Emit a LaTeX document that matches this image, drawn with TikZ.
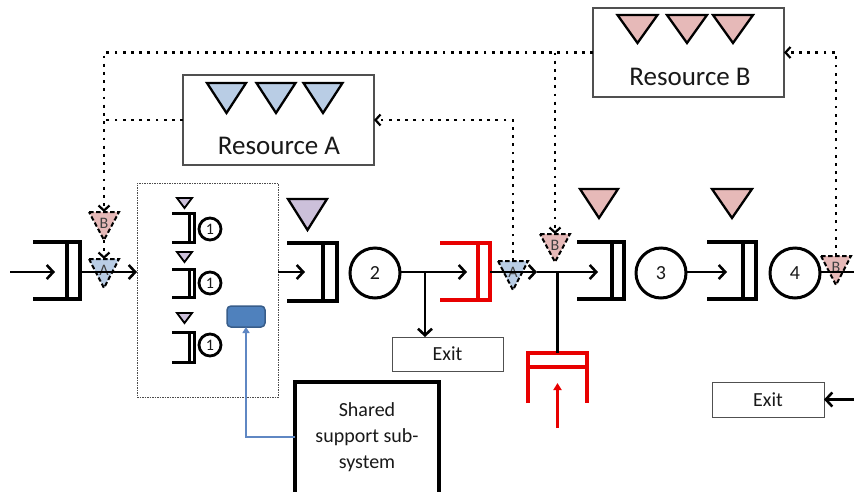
\documentclass[tikz,border=0pt]{standalone}
\usepackage{fontspec}
\setmainfont{Carlito}
\usetikzlibrary{arrows.meta}
\definecolor{pinkf}{RGB}{230,185,184}
\definecolor{bluef}{RGB}{185,205,229}
\definecolor{purf}{RGB}{204,192,218}
\definecolor{myred}{RGB}{232,0,0}
\definecolor{bluebox}{RGB}{79,129,189}
\definecolor{blueline}{RGB}{56,93,138}
\definecolor{bluearrow}{RGB}{95,135,195}
\definecolor{boxgray}{RGB}{80,80,80}
\definecolor{txt}{RGB}{25,25,25}
% triangle: name, x, top y, half width, height, style
\newcommand\tri[6]{%
  \draw[#6] ({#2-#4},#3) -- ({#2+#4},#3) -- (#2,{#3+#5}) -- cycle;
  \coordinate (#1) at (#2,#3);
  \coordinate (#1b) at (#2,{#3+#5});}
% queue: left, inner, outer, top, bottom, style
\newcommand\qshape[6]{%
  \draw[#6] (#1,#4) -- (#3,#4) -- (#3,#5) -- (#1,#5);
  \draw[#6] (#2,#4) -- (#2,#5);}
\begin{document}
\begin{tikzpicture}[x=1pt,y=-1pt,
  every node/.style={inner sep=0pt, outer sep=0pt, text=txt},
  qline/.style={line width=3.8pt},
  rqline/.style={line width=3.8pt, draw=myred},
  sqline/.style={line width=3pt},
  flow/.style={line width=2.6pt},
  arr/.style={line width=2.6pt, -{Straight Barb[length=6.5pt,width=14pt]}},
  dotl/.style={line width=2.8pt, dash pattern=on 2.8pt off 5.4pt},
  dotarr/.style={dotl, -{Straight Barb[length=5pt,width=11pt,line width=2.2pt]}},
  soltri/.style={draw=black, line width=2.3pt},
  dtri/.style={draw=black, line width=2pt, dash pattern=on 4.5pt off 2.5pt},
  rbox/.style={draw=boxgray, line width=1.2pt, fill=white},
  exitbox/.style={draw=boxgray, line width=1pt, fill=white, font=\fontsize{20}{24}\selectfont},
  numc/.style={circle, draw=black, line width=3pt, minimum size=50pt, font=\fontsize{20}{24}\selectfont},
  onec/.style={circle, draw=black, line width=2.8pt, minimum size=22pt, font=\fontsize{16}{18}\selectfont},
  rtext/.style={font=\fontsize{27}{32}\selectfont},
  tlab/.style={font=\fontsize{16}{18}\selectfont, text=black!75},
]
\useasboundingbox (0,0) rectangle (854,491);
\clip (0,0) rectangle (854,491);
\fill[white] (0,0) rectangle (854,491);

% resource boxes
\node[rbox, minimum width=191pt, minimum height=89pt] (RB) at (688.5,52.5) {};
\node[rtext] (RBt) at (690,77) {Resource B};
\node[rbox, minimum width=191pt, minimum height=90pt] (RA) at (278.5,120) {};
\node[rtext] (RAt) at (279,146) {Resource A};
\tri{rb1}{637.5}{15}{20}{28}{soltri, fill=pinkf}
\tri{rb2}{687}{15}{20}{28}{soltri, fill=pinkf}
\tri{rb3}{733}{15}{20}{28}{soltri, fill=pinkf}
\tri{ra1}{226.5}{83}{19.5}{30}{soltri, fill=bluef}
\tri{ra2}{276}{83}{19.5}{30}{soltri, fill=bluef}
\tri{ra3}{323}{83}{19.5}{30}{soltri, fill=bluef}

% parallel stations box
\node[draw=black!70, dash pattern=on 1.5pt off 1pt, line width=0.8pt, minimum width=141pt, minimum height=214pt] (DB) at (207.5,290) {};
\foreach \ty/\qt/\qb/\cy [count=\i] in {198/213/242/229, 252/269/297/283, 313/332/362/345}{
  \tri{st\i}{184.5}{\ty}{7.5}{10}{soltri, fill=purf, line width=1.8pt}
  \qshape{172}{189.5}{194}{\qt}{\qb}{sqline}
  \node[onec] (one\i) at (210,\cy) {1};
}
\node[draw=blueline, fill=bluebox, line width=1.5pt, rounded corners=4pt, minimum width=38pt, minimum height=21pt] (BR) at (246,316.5) {};

% exits and shared system
\node[exitbox, minimum width=111pt, minimum height=34pt] (E1) at (447.5,354) {Exit};
\node[exitbox, minimum width=112pt, minimum height=35pt] (E2) at (768,399.5) {Exit};
\node[draw=black, line width=3.2pt, fill=white, minimum width=144pt, minimum height=126pt] (SH) at (367,445) {};
\node[font=\fontsize{20}{26}\selectfont, align=center] (SHt) at (367,437) {Shared\\support sub-\\system};
\draw[bluearrow, line width=2.4pt, -{Triangle[length=6pt,width=7pt]}] ([yshift=8pt]SH.west) -| (BR.south);

% queues
\qshape{33}{67}{80}{242}{299}{qline}
\qshape{287}{323}{337}{243}{301}{qline}
\qshape{440}{478}{490}{243}{300}{rqline}
\qshape{577}{612}{624}{242}{299}{qline}
\qshape{707}{743}{756}{242}{299}{qline}
\tri{pq2}{307.5}{199}{19.5}{31}{soltri, fill=purf}
\tri{pq3}{599}{189}{19}{29}{soltri, fill=pinkf}
\tri{pq4}{732}{189}{20}{29}{soltri, fill=pinkf}

% bottom red queue
\draw[rqline] (528,403) -- (528,353) -- (587,353) -- (587,403);
\draw[rqline] (528,367) -- (587,367);
\coordinate (rbtop) at (557.5,353);
\coordinate (rbin) at (557.5,428);
\coordinate (rbtip) at (557.5,383);
\draw[myred, line width=2.6pt, -{Triangle[length=7pt,width=8pt]}] (rbin) -- (rbtip);

% servers
\node[numc] (C2) at (375,273) {2};
\node[numc] (C3) at (661,273) {3};
\node[numc] (C4) at (795,273) {4};

% seize / release triangles
\tri{Bt1}{104}{212}{15}{28}{dtri, fill=pinkf}
\node[tlab] (Bt1l) at (104,223) {B};
\tri{At1}{104}{259}{15}{29}{dtri, fill=bluef}
\node[tlab] (At1l) at (104,270) {A};
\tri{At2}{513}{261}{15}{29}{dtri, fill=bluef}
\node[tlab] (At2l) at (513,272) {A};
\tri{Bt2}{555}{234}{15}{28}{dtri, fill=pinkf}
\node[tlab] (Bt2l) at (555,245) {B};
\tri{Bt3}{836}{256}{15}{29}{dtri, fill=pinkf}
\node[tlab] (Bt3l) at (836,267) {B};

% dotted resource lines
\coordinate (jA) at (104,120);
\coordinate (jB) at (Bt2 |- RB.west);
\draw[dotarr] (RB.west) -| (Bt1);
\draw[dotl] (RA.west) -- (jA);
\draw[dotarr] (Bt1b) -- (At1);
\draw[dotarr] (jB) -- (Bt2);
\draw[dotarr] (At2) |- (RA.east);
\draw[dotarr] (Bt3) |- (RB.east);

% main flow
\coordinate (fy) at (0,272);
\coordinate (src) at (10,272);
\coordinate (q1in) at (55,272);
\coordinate (q1out) at (80,272);
\coordinate (dbin) at (DB.west |- fy);
\coordinate (dbout) at (DB.east |- fy);
\coordinate (q2in) at (305,272);
\coordinate (qrin) at (467,272);
\coordinate (br) at (425,272);
\coordinate (qrout) at (490,272);
\coordinate (mid) at (537,272);
\coordinate (q3in) at (598,272);
\coordinate (jn) at (557.5,272);
\coordinate (q4in) at (727,272);
\coordinate (rend) at (854,272);
\coordinate (e2src) at (854,399.5);
\draw[arr] (src) -- (q1in);
\draw[arr] (q1out) -- (dbin);
\draw[arr] (dbout) -- (q2in);
\draw[arr] (C2.east |- fy) -- (qrin);
\draw[arr] (br) -- (br |- E1.north);
\draw[arr] (qrout) -- (mid);
\draw[arr] (mid) -- (q3in);
\draw[flow] (rbtop) -- (jn);
\draw[arr] (C3.east |- fy) -- (q4in);
\draw[flow] (C4.east |- fy) -- (rend);
\draw[arr] (e2src) -- (E2.east);
\end{tikzpicture}
\end{document}
